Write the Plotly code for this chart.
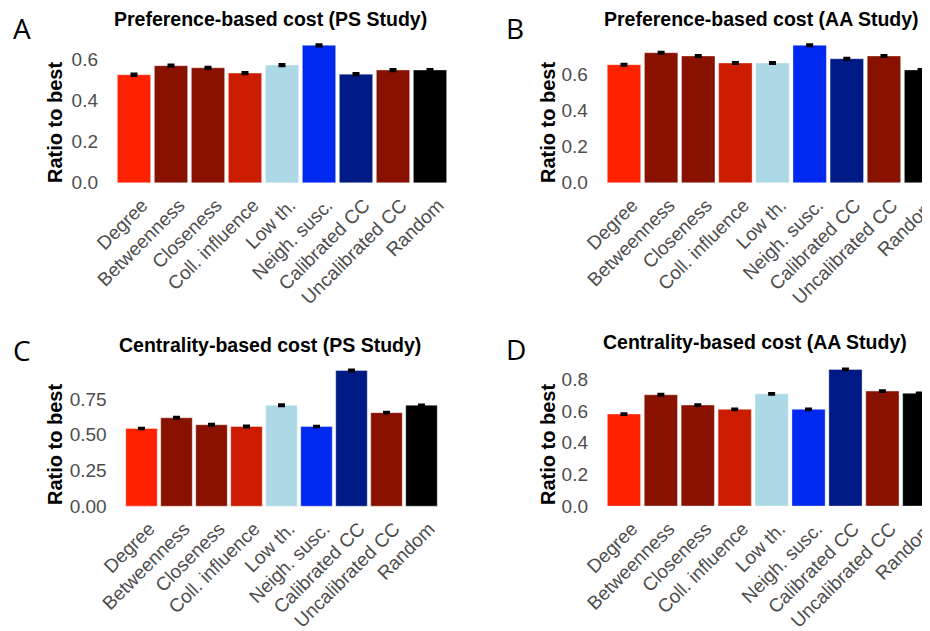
import plotly.graph_objects as go

categories = ["Degree", "Betweenness", "Closeness", "Coll. influence", "Low th.",
              "Neigh. susc.", "Calibrated CC", "Uncalibrated CC", "Random"]
bar_colors = ["#FF2200", "#881100", "#881100", "#CC1C00", "#ADD8E6",
              "#0029F0", "#001A85", "#881100", "#000000"]

titles = ["Preference-based cost (PS Study)", "Preference-based cost (AA Study)",
          "Centrality-based cost (PS Study)", "Centrality-based cost (AA Study)"]
panel_letters = ["A", "B", "C", "D"]

pref_ps = [0.525, 0.569, 0.559, 0.533, 0.572, 0.668, 0.528, 0.548, 0.548]
pref_ps_err = [0.005, 0.005, 0.005, 0.005, 0.005, 0.005, 0.005, 0.005, 0.004]
pref_aa = [0.652, 0.718, 0.700, 0.661, 0.661, 0.759, 0.685, 0.700, 0.623]
pref_aa_err = [0.005, 0.005, 0.005, 0.005, 0.005, 0.005, 0.005, 0.005, 0.004]
cent_ps = [0.544, 0.619, 0.570, 0.558, 0.707, 0.558, 0.950, 0.655, 0.707]
cent_ps_err = [0.005, 0.006, 0.006, 0.006, 0.006, 0.005, 0.006, 0.006, 0.005]
cent_aa = [0.581, 0.703, 0.638, 0.611, 0.709, 0.611, 0.863, 0.726, 0.712]
cent_aa_err = [0.005, 0.005, 0.005, 0.005, 0.005, 0.005, 0.005, 0.005, 0.004]

ytick_a = [0.0, 0.2, 0.4, 0.6]
ytick_b = [0.0, 0.2, 0.4, 0.6]
ytick_c = [0.00, 0.25, 0.50, 0.75]
ytick_d = [0.0, 0.2, 0.4, 0.6, 0.8]

# the page body has an 8px default margin; work in screen pixels and compensate
OFF = 8
W, H = 930 - OFF, 631 - OFF

def fx(px):
    return (px - OFF) / W

def fy(py):
    return 1 - (py - OFF) / H

values = [pref_ps, pref_aa, cent_ps, cent_aa]
errors = [pref_ps_err, pref_aa_err, cent_ps_err, cent_aa_err]
yticks = [ytick_a, ytick_b, ytick_c, ytick_d]
yfmt = [".1f", ".1f", ".2f", ".1f"]

# layout geometry (screen pixels)
xdom_px = [(111.8, 452.2), (601.7, 930), (120.5, 442.5), (601.8, 930)]
xranges = [[-0.6, 8.6], [-0.6, 8.24], [-0.6, 8.6], [-0.6, 8.29]]
ydom_px = [(37.5, 189.6), (37.5, 189.6), (362, 513), (362, 513)]
yranges = [[-0.033, 0.706], [-0.038, 0.802], [-0.048, 1.01], [-0.044, 0.91]]
title_pos = [(270, 18.5), (761, 18.5), (270, 345), (755, 342)]
letter_pos = [(22, 28), (515, 28), (22, 350), (516, 349)]
ytitle_pos = [(55, 123), (548, 123), (55, 445), (548, 445)]
label_shift = 0.22  # ggplot-style hjust=1/vjust=1 offset of rotated labels

FONT = "Liberation Sans, Arial, sans-serif"

fig = go.Figure()
annotations = []
for i in range(4):
    n = "" if i == 0 else str(i + 1)
    fig.add_trace(go.Bar(
        x=list(range(len(categories))), y=values[i],
        marker=dict(color=bar_colors, line=dict(color="rgba(255,255,255,0.6)", width=0.6)),
        width=0.9,
        error_y=dict(type="data", array=errors[i], color="black", thickness=2.2, width=3.5),
        xaxis="x" + n, yaxis="y" + n, showlegend=False,
    ))
    fig.update_layout(**{
        "xaxis" + n: dict(
            domain=[fx(xdom_px[i][0]), min(1.0, fx(xdom_px[i][1]))], range=xranges[i],
            anchor="y" + n, tickmode="array",
            tickvals=[k + label_shift for k in range(len(categories))],
            ticktext=categories, tickangle=-45, showgrid=False, zeroline=False,
            showline=False, ticks="", ticklen=0,
            automargin=False, ticklabeloverflow="allow",
            tickfont=dict(family=FONT, size=19, color="#4D4D4D"),
        ),
        "yaxis" + n: dict(
            domain=[fy(ydom_px[i][1]), fy(ydom_px[i][0])], range=yranges[i],
            anchor="x" + n, tickmode="array", tickvals=yticks[i], tickformat=yfmt[i],
            showgrid=False, zeroline=False, showline=False,
            ticks="outside", ticklen=9, tickcolor="rgba(0,0,0,0)",
            automargin=False,
            tickfont=dict(family=FONT, size=19, color="#4D4D4D"),
        ),
    })
    annotations.append(dict(
        text="<b>" + titles[i] + "</b>", x=fx(title_pos[i][0]), y=fy(title_pos[i][1]),
        xref="paper", yref="paper", showarrow=False, xanchor="center", yanchor="middle",
        font=dict(family=FONT, size=19.5, color="black"),
    ))
    annotations.append(dict(
        text=panel_letters[i], x=fx(letter_pos[i][0]), y=fy(letter_pos[i][1]),
        xref="paper", yref="paper", showarrow=False, xanchor="center", yanchor="middle",
        font=dict(family="Open Sans, sans-serif", size=28, color="black"),
    ))
    annotations.append(dict(
        text="<b>Ratio to best</b>", x=fx(ytitle_pos[i][0]), y=fy(ytitle_pos[i][1]),
        xref="paper", yref="paper", showarrow=False, xanchor="center", yanchor="middle",
        textangle=-90,
        font=dict(family=FONT, size=20, color="black"),
    ))

fig.update_layout(
    width=W, height=H, margin=dict(l=0, r=0, t=0, b=0),
    paper_bgcolor="white", plot_bgcolor="white",
    annotations=annotations, bargap=0.1,
)

fig.write_html("out.html")
